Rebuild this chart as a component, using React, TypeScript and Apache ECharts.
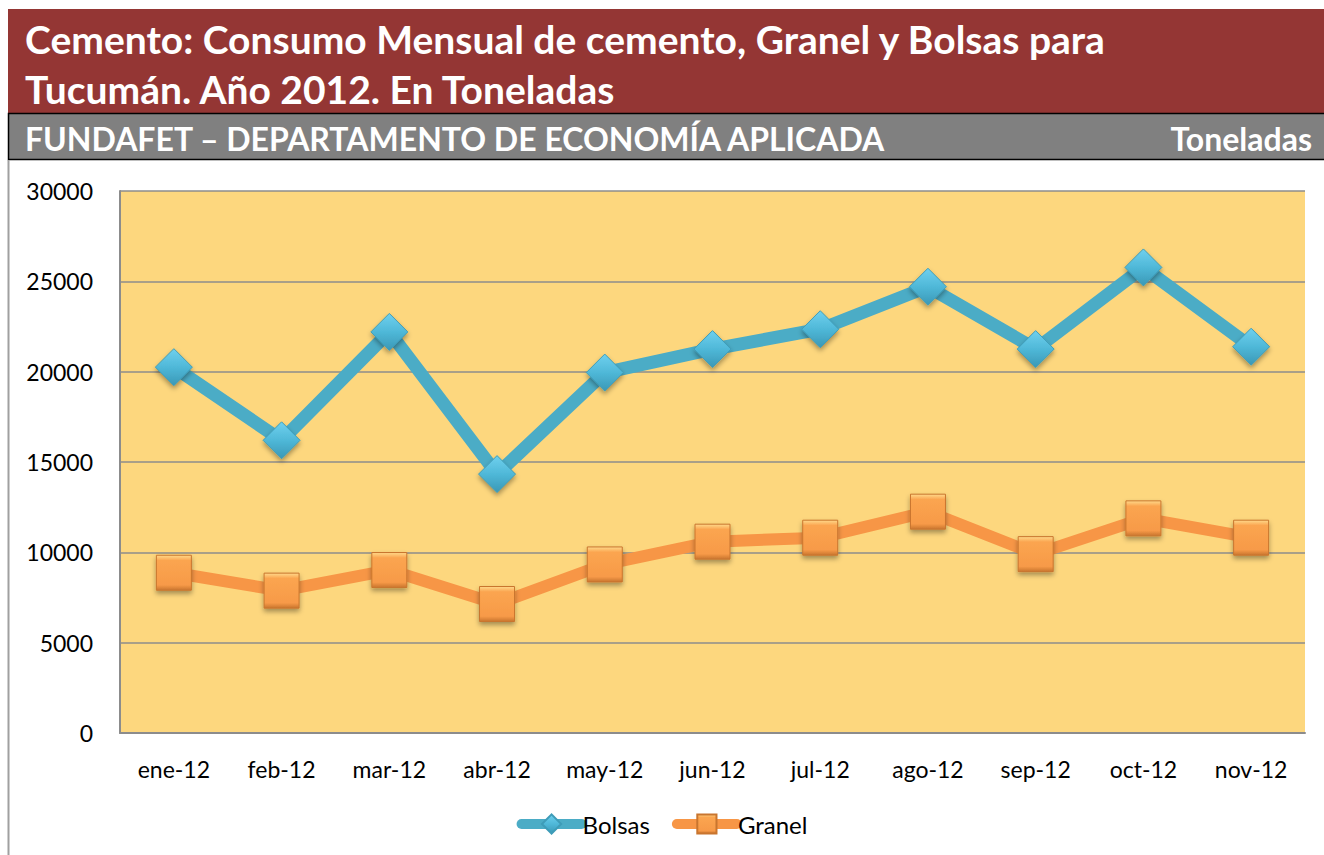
import React, { useEffect, useRef } from "react";
import * as echarts from "echarts";

const months = ["ene-12", "feb-12", "mar-12", "abr-12", "may-12", "jun-12", "jul-12", "ago-12", "sep-12", "oct-12", "nov-12"];
const bolsas = [20250, 16200, 22200, 14330, 19950, 21250, 22350, 24700, 21250, 25770, 21380];
const granel = [8870, 7880, 9020, 7140, 9330, 10590, 10810, 12250, 9900, 11880, 10810];
const titleLines = ["Cemento: Consumo Mensual de cemento, Granel y Bolsas para", "Tucumán. Año 2012. En Toneladas"];
const subtitle = "FUNDAFET – DEPARTAMENTO DE ECONOMÍA APLICADA";
const unitLabel = "Toneladas";

const FONT = "Lato, 'Open Sans', sans-serif";

export default function App() {
  const ref = useRef<HTMLDivElement>(null);
  useEffect(() => {
    if (!ref.current) return;
    const chart = echarts.init(ref.current, undefined, { renderer: "svg" });
    const blueGrad = new echarts.graphic.LinearGradient(0, 0, 0, 1, [
      { offset: 0, color: "#6FD0EE" },
      { offset: 0.5, color: "#4FB8D8" },
      { offset: 1, color: "#3A98B6" },
    ]);
    const orangeGrad = new echarts.graphic.LinearGradient(0, 0, 0, 1, [
      { offset: 0, color: "#FFD98A" },
      { offset: 0.15, color: "#FBA550" },
      { offset: 0.85, color: "#F79A48" },
      { offset: 1, color: "#C9752E" },
    ]);
    chart.setOption({
      animation: false,
      backgroundColor: "#ffffff",
      textStyle: { fontFamily: FONT },
      graphic: [
        { type: "rect", shape: { x: 8, y: 9, width: 1316, height: 104 }, style: { fill: "#943634" }, z: 0 },
        { type: "rect", shape: { x: 8.5, y: 113.5, width: 1320, height: 46 }, style: { fill: "#808080", stroke: "#000000", lineWidth: 1.5 }, z: 0 },
        { type: "line", shape: { x1: 8.5, y1: 160, x2: 8.5, y2: 855 }, style: { stroke: "#A0A0A0", lineWidth: 2 }, z: 0 },
        { type: "text", x: 25, y: 39, style: { text: titleLines[0], fill: "#ffffff", font: `bold 39px ${FONT}`, verticalAlign: "middle" }, z: 5 },
        { type: "text", x: 25, y: 89, style: { text: titleLines[1], fill: "#ffffff", font: `bold 39px ${FONT}`, verticalAlign: "middle" }, z: 5 },
        { type: "text", x: 25, y: 138, style: { text: subtitle, fill: "#ffffff", font: `bold 32px ${FONT}`, verticalAlign: "middle" }, z: 5 },
        { type: "text", x: 1312, y: 138, style: { text: unitLabel, fill: "#ffffff", font: `bold 32px ${FONT}`, verticalAlign: "middle", align: "right" }, z: 5 },
      ],
      legend: {
        bottom: 14,
        left: "center",
        itemWidth: 60,
        itemHeight: 24,
        itemGap: 22,
        textStyle: { fontSize: 24, color: "#000", fontFamily: FONT, padding: [0, 0, 0, -4] },
        data: [
          { name: "Bolsas", lineStyle: { width: 10, cap: "round" } },
          { name: "Granel", lineStyle: { width: 10, cap: "round" } },
        ],
      },
      grid: {
        left: 120,
        right: 19,
        top: 191,
        bottom: 122,
        show: true,
        backgroundColor: "#FDD77E",
        borderWidth: 0,
      },
      xAxis: {
        type: "category",
        data: months,
        boundaryGap: true,
        axisLine: { show: true, lineStyle: { color: "#8C8C8C", width: 2 } },
        axisTick: { show: false },
        axisLabel: { color: "#000", fontSize: 23, margin: 24, fontFamily: FONT, interval: 0 },
      },
      yAxis: {
        type: "value",
        min: 0,
        max: 30000,
        interval: 5000,
        axisLine: { show: true, lineStyle: { color: "#8C8C8C", width: 2 } },
        axisTick: { show: false },
        splitLine: { show: true, lineStyle: { color: "#8C8C8C", width: 1.5 } },
        axisLabel: { color: "#000", fontSize: 23, margin: 27, fontFamily: FONT, formatter: (v: number) => String(v) },
      },
      series: [
        {
          name: "Bolsas",
          type: "line",
          data: bolsas,
          symbol: "diamond",
          symbolSize: 37,
          lineStyle: { color: "#4BACC6", width: 13 },
          itemStyle: {
            color: blueGrad,
            borderColor: "#3E9CB8",
            borderWidth: 1,
            shadowBlur: 5,
            shadowOffsetY: 3,
            shadowColor: "rgba(0,0,0,0.35)",
          },
          z: 3,
        },
        {
          name: "Granel",
          type: "line",
          data: granel,
          symbol: "rect",
          symbolSize: 35,
          lineStyle: { color: "#F79646", width: 12 },
          itemStyle: {
            color: orangeGrad,
            borderColor: "#C9752E",
            borderWidth: 1,
            shadowBlur: 5,
            shadowOffsetY: 3,
            shadowColor: "rgba(0,0,0,0.35)",
          },
          z: 2,
        },
      ],
    });
    return () => chart.dispose();
  }, []);
  return <div ref={ref} style={{ position: "absolute", left: 0, top: 0, width: 1324, height: 855 }} />;
}
